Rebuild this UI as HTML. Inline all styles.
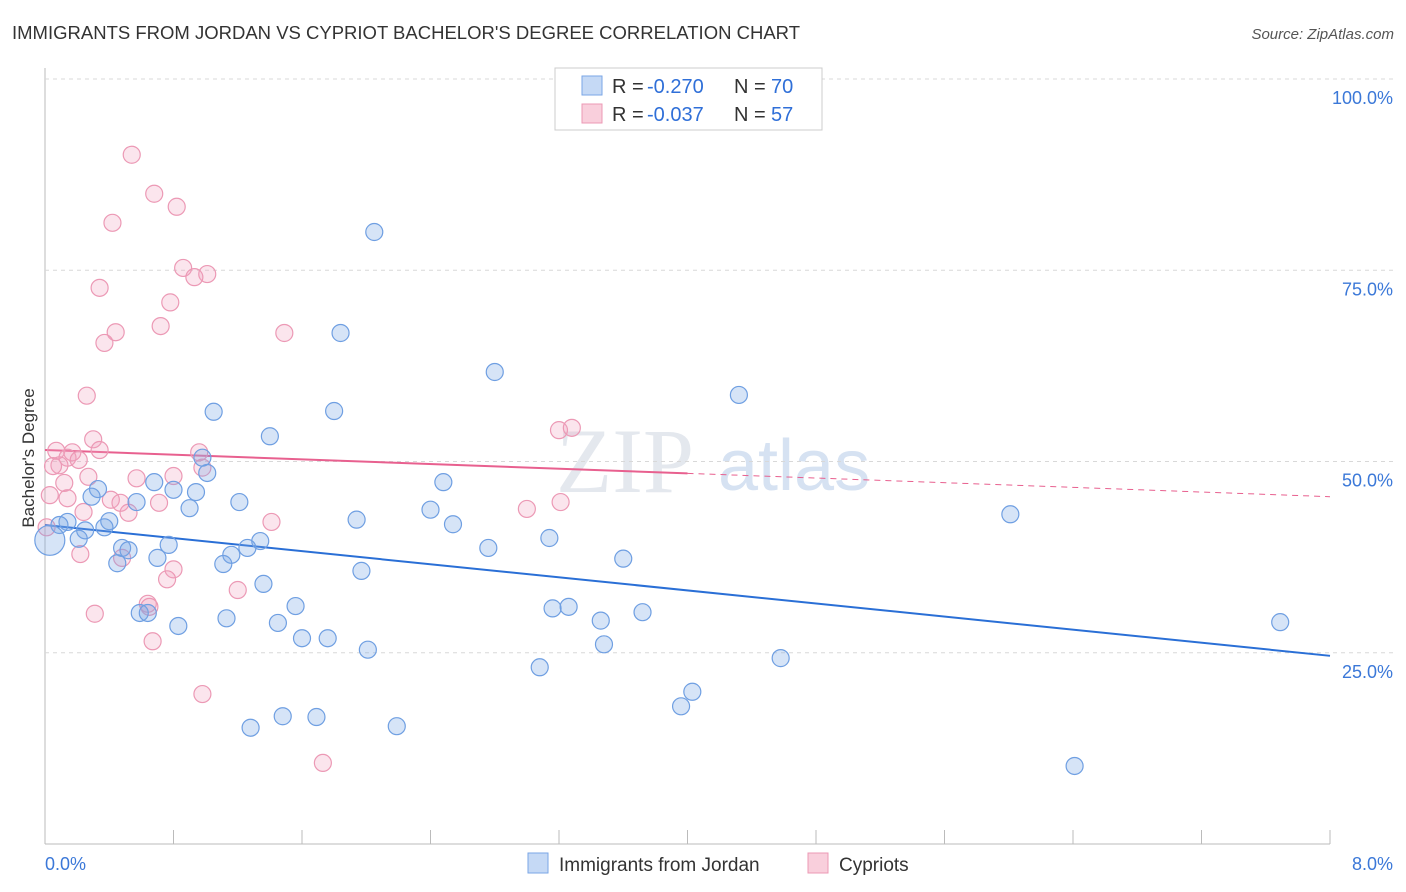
<!DOCTYPE html>
<html><head><meta charset="utf-8">
<style>
body{margin:0;background:#fff;font-family:"Liberation Sans",sans-serif;}
#wrap{position:relative;width:1406px;height:892px;overflow:hidden;}
</style></head>
<body>
<div id="wrap">
<svg id="svg" width="1406" height="892" xmlns="http://www.w3.org/2000/svg">
<text x="12" y="39" font-size="18.5" fill="#333" textLength="788">IMMIGRANTS FROM JORDAN VS CYPRIOT BACHELOR'S DEGREE CORRELATION CHART</text>
<text x="1394" y="39" font-size="15" fill="#555" font-style="italic" text-anchor="end">Source: ZipAtlas.com</text>
<text x="34" y="458" font-size="17" fill="#333" text-anchor="middle" transform="rotate(-90 34 458)">Bachelor's Degree</text>
<text x="556" y="492" font-size="92" fill="#e4e8ee" font-family="Liberation Serif,serif">ZIP</text>
<text x="718" y="490" font-size="72" fill="#d6e2f2">atlas</text>
<g id="grid"></g>
<g id="trend"></g>
<g id="pts"></g>
<g>
<rect x="555" y="68" width="267" height="62" fill="#fff" stroke="#ccc"/>
<rect x="582" y="76" width="20" height="19" fill="#c5d9f5" stroke="#7aa6e6"/>
<rect x="582" y="104" width="20" height="19" fill="#f9cfdc" stroke="#ec99b5"/>
<g font-size="20" fill="#333">
<text x="612" y="93">R =</text>
<text x="647" y="93" fill="#2f6fd8">-0.270</text>
<text x="734" y="93">N =</text>
<text x="771" y="93" fill="#2f6fd8">70</text>
<text x="612" y="121">R =</text>
<text x="647" y="121" fill="#2f6fd8">-0.037</text>
<text x="734" y="121">N =</text>
<text x="771" y="121" fill="#2f6fd8">57</text>
</g>
</g>
<g>
<rect x="528" y="853" width="20" height="20" fill="#c5d9f5" stroke="#7aa6e6"/>
<text x="559" y="871" font-size="19" fill="#333">Immigrants from Jordan</text>
<rect x="808" y="853" width="20" height="20" fill="#f9cfdc" stroke="#ec99b5"/>
<text x="839" y="871" font-size="19" fill="#333">Cypriots</text>
</g>
</svg>
</div>
<script>
const blueX=[2.05,1.84,2.80,4.32,1.05,1.80,1.40,0.98,1.01,2.48,0.68,0.80,0.94,0.33,0.29,0.57,1.21,0.90,2.40,1.94,2.54,0.40,0.37,0.14,0.09,0.25,0.21,6.01,3.14,2.76,1.34,1.26,0.77,0.48,0.52,0.70,1.16,1.11,0.45,3.60,1.97,1.36,1.56,3.16,3.26,3.72,3.46,0.59,0.64,1.13,0.83,1.45,1.60,1.76,3.48,2.01,7.69,4.58,3.08,4.03,3.96,1.48,1.69,1.28,2.19,6.41,0.03];
const blueY=[80.0,66.8,61.7,58.7,56.5,56.6,53.3,50.5,48.5,47.3,47.3,46.3,46.0,46.4,45.4,44.7,44.7,43.9,43.7,42.4,41.8,42.2,41.4,42.1,41.7,41.0,39.9,43.1,40.0,38.7,39.6,38.7,39.1,38.7,38.4,37.4,37.8,36.6,36.7,37.3,35.7,34.0,31.1,30.8,31.0,30.3,29.2,30.2,30.2,29.5,28.5,28.9,26.9,26.9,26.1,25.4,29.0,24.3,23.1,19.9,18.0,16.7,16.6,15.2,15.4,10.2,39.7];
const pinkX=[0.54,0.68,0.82,0.42,0.86,1.01,0.93,0.34,0.78,0.72,0.44,0.37,1.49,0.26,0.30,0.07,0.17,0.34,0.14,0.21,0.09,0.05,0.96,0.98,0.27,0.12,0.57,0.80,0.03,0.14,0.41,0.47,0.71,0.52,0.24,1.41,3.00,3.20,3.28,3.21,0.01,0.22,0.48,0.80,0.76,1.20,0.64,0.65,0.31,0.67,0.98,1.73];
const pinkY=[90.1,85.0,83.3,81.2,75.3,74.5,74.1,72.7,70.8,67.7,66.9,65.5,66.8,58.6,52.9,51.4,51.2,51.5,50.5,50.2,49.5,49.4,51.2,49.2,48.0,47.2,47.8,48.1,45.6,45.2,45.0,44.6,44.6,43.3,43.4,42.1,43.8,54.1,54.4,44.7,41.4,37.9,37.4,35.9,34.6,33.2,31.4,31.0,30.1,26.5,19.6,10.6];
const blueTrend=[41.7,24.6];
const pinkTrend=[51.5,45.4];
const pinkSolidEnd=4.0;
const yTicks=[25,50,75,100];
const xTickLabels=["0.0%","8.0%"];

const NS="http://www.w3.org/2000/svg";
const X=v=>45+v/8*1285;
const Y=v=>844-v/100*765;
function mk(tag,attrs,parent){const e=document.createElementNS(NS,tag);for(const k in attrs)e.setAttribute(k,attrs[k]);parent.appendChild(e);return e;}
const grid=document.getElementById('grid');
mk('line',{x1:45,y1:844,x2:1330,y2:844,stroke:'#bbb'},grid);
mk('line',{x1:45,y1:68,x2:45,y2:844,stroke:'#bbb'},grid);
for(let i=0;i<=10;i++){const l=mk('line',{x1:X(i*0.8),y1:830,x2:X(i*0.8),y2:844,stroke:'#bbb'},grid);

}
yTicks.forEach(t=>{
 const l=mk('line',{x1:45,y1:Y(t),x2:1394,y2:Y(t),stroke:'#d8d8d8','stroke-dasharray':'4,4'},grid);
 
 
 const tx=mk('text',{x:1393,y:Y(t)+25,'font-size':18,fill:'#3b78d8','text-anchor':'end'},grid);
 tx.textContent=t.toFixed(1)+'%';
 
 
});
const xl0=mk('text',{x:45,y:870,'font-size':18,fill:'#3b78d8'},grid);xl0.textContent=xTickLabels[0];


const xl1=mk('text',{x:1393,y:870,'font-size':18,fill:'#3b78d8','text-anchor':'end'},grid);xl1.textContent=xTickLabels[1];



const pts=document.getElementById('pts');
pinkX.forEach((x,i)=>{const c=mk('circle',{cx:X(x),cy:Y(pinkY[i]),r:8.5,fill:'rgba(242,160,190,0.28)',stroke:'#ec99b5','stroke-width':1.2},pts);

});
blueX.forEach((x,i)=>{const big=i===blueX.length-1;const c=mk('circle',{cx:X(x),cy:Y(blueY[i]),r:big?15:8.5,fill:'rgba(120,165,230,0.3)',stroke:'#6f9fe2','stroke-width':1.2},pts);

});

const tr=document.getElementById('trend');
const bl=mk('line',{x1:X(0),y1:Y(blueTrend[0]),x2:X(8),y2:Y(blueTrend[1]),stroke:'#2a6fd6','stroke-width':2},tr);


const pm=pinkTrend[0]+(pinkTrend[1]-pinkTrend[0])*pinkSolidEnd/8;
const pl=mk('line',{x1:X(0),y1:Y(pinkTrend[0]),x2:X(pinkSolidEnd),y2:Y(pm),stroke:'#e8608f','stroke-width':2},tr);


const pd=mk('line',{x1:X(pinkSolidEnd),y1:Y(pm),x2:X(8),y2:Y(pinkTrend[1]),stroke:'#e8608f','stroke-width':1,'stroke-dasharray':'6,5'},tr);


</script>
</body></html>
